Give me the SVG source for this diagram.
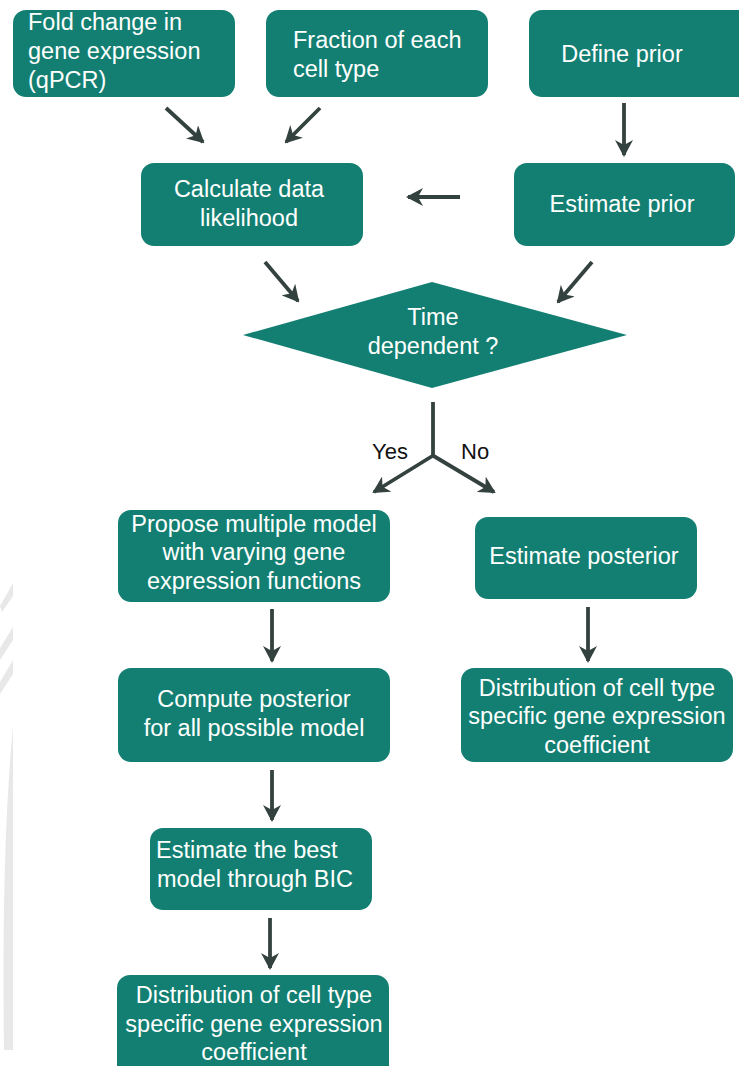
<svg xmlns="http://www.w3.org/2000/svg" width="739" height="1066" viewBox="0 0 739 1066">
  <style>
    .box { fill: #137f72; }
    .lbl { font-family: "Liberation Sans", Arial, sans-serif; font-size: 23.5px; fill: #ffffff; }
    .mid { text-anchor: middle; }
    .edge { stroke: #34423f; stroke-width: 3.8; fill: none; }
    .tag { font-family: "Liberation Sans", Arial, sans-serif; font-size: 22px; fill: #111111; }
  </style>
  <defs>
    <marker id="head" viewBox="0 0 17 18" refX="15" refY="9" markerWidth="17" markerHeight="18" markerUnits="userSpaceOnUse" orient="auto">
      <path d="M0,0 L17,9 L0,18 L5,9 Z" fill="#34423f"/>
    </marker>
  </defs>

  <rect width="739" height="1066" fill="#ffffff"/>

  <!-- faint background mark along the left edge -->
  <g id="backdrop" fill="#e8e8e8">
    <path d="M13,583 L13,596 L2,612 L0,606 Z"/>
    <path d="M13,627 L13,640 L0,660 L0,648 Z"/>
    <path d="M13,660 L13,674 L0,694 L0,682 Z"/>
    <path d="M13,727 C6,800 2,900 4,1050 L13,1050 Z"/>
  </g>

  <g id="connectors">
    <line class="edge" x1="166" y1="108" x2="203" y2="142" marker-end="url(#head)"/>
    <line class="edge" x1="320" y1="108" x2="286" y2="142" marker-end="url(#head)"/>
    <line class="edge" x1="624" y1="103" x2="624" y2="155" marker-end="url(#head)"/>
    <line class="edge" x1="460" y1="197" x2="408" y2="197" marker-end="url(#head)"/>
    <line class="edge" x1="265" y1="262" x2="298" y2="301" marker-end="url(#head)"/>
    <line class="edge" x1="592" y1="262" x2="558" y2="302" marker-end="url(#head)"/>
    <line class="edge" x1="433" y1="402" x2="433" y2="455"/>
    <line class="edge" x1="434" y1="455" x2="374" y2="492" marker-end="url(#head)"/>
    <line class="edge" x1="432" y1="455" x2="494" y2="492" marker-end="url(#head)"/>
    <line class="edge" x1="272" y1="609" x2="272" y2="661" marker-end="url(#head)"/>
    <line class="edge" x1="588" y1="607" x2="588" y2="661" marker-end="url(#head)"/>
    <line class="edge" x1="272" y1="770" x2="272" y2="820" marker-end="url(#head)"/>
    <line class="edge" x1="270" y1="918" x2="270" y2="968" marker-end="url(#head)"/>
    <text class="tag" x="372" y="459">Yes</text>
    <text class="tag" x="461" y="459">No</text>
  </g>

  <g id="fold-change">
    <rect class="box" x="13" y="10" width="222" height="87" rx="13"/>
    <text class="lbl" x="28" y="30">Fold change in</text>
    <text class="lbl" x="28" y="59">gene expression</text>
    <text class="lbl" x="28" y="88">(qPCR)</text>
  </g>

  <g id="fraction">
    <rect class="box" x="266" y="10" width="222" height="87" rx="13"/>
    <text class="lbl" x="293" y="48">Fraction of each</text>
    <text class="lbl" x="293" y="77">cell type</text>
  </g>

  <g id="define-prior">
    <rect class="box" x="529" y="10" width="230" height="87" rx="13"/>
    <text class="lbl mid" x="622" y="62">Define prior</text>
  </g>

  <g id="data-likelihood">
    <rect class="box" x="141" y="163" width="222" height="83" rx="13"/>
    <text class="lbl mid" x="249" y="197">Calculate data</text>
    <text class="lbl mid" x="249" y="226">likelihood</text>
  </g>

  <g id="estimate-prior">
    <rect class="box" x="514" y="163" width="221" height="83" rx="13"/>
    <text class="lbl mid" x="622" y="212">Estimate prior</text>
  </g>

  <g id="time-dependent">
    <polygon class="box" points="432,282 627,335 432,388 243,335"/>
    <text class="lbl mid" x="433" y="325">Time</text>
    <text class="lbl mid" x="433" y="354">dependent ?</text>
  </g>

  <g id="propose-models">
    <rect class="box" x="118" y="510" width="272" height="92" rx="13"/>
    <text class="lbl mid" x="254" y="532">Propose multiple model</text>
    <text class="lbl mid" x="254" y="560">with varying gene</text>
    <text class="lbl mid" x="254" y="589">expression functions</text>
  </g>

  <g id="estimate-posterior">
    <rect class="box" x="475" y="517" width="222" height="82" rx="13"/>
    <text class="lbl mid" x="584" y="564">Estimate posterior</text>
  </g>

  <g id="compute-posterior">
    <rect class="box" x="118" y="668" width="272" height="94" rx="13"/>
    <text class="lbl mid" x="254" y="707">Compute posterior</text>
    <text class="lbl mid" x="254" y="736">for all possible model</text>
  </g>

  <g id="distribution-right">
    <rect class="box" x="461" y="668" width="272" height="94" rx="13"/>
    <text class="lbl mid" x="597" y="696">Distribution of cell type</text>
    <text class="lbl mid" x="597" y="724">specific gene expression</text>
    <text class="lbl mid" x="597" y="753">coefficient</text>
  </g>

  <g id="best-model">
    <rect class="box" x="150" y="828" width="222" height="82" rx="13"/>
    <text class="lbl" x="156" y="858">Estimate the best</text>
    <text class="lbl" x="157" y="887">model through BIC</text>
  </g>

  <g id="distribution-bottom">
    <rect class="box" x="117" y="975" width="272" height="110" rx="13"/>
    <text class="lbl mid" x="254" y="1003">Distribution of cell type</text>
    <text class="lbl mid" x="254" y="1032">specific gene expression</text>
    <text class="lbl mid" x="254" y="1060">coefficient</text>
  </g>
</svg>
